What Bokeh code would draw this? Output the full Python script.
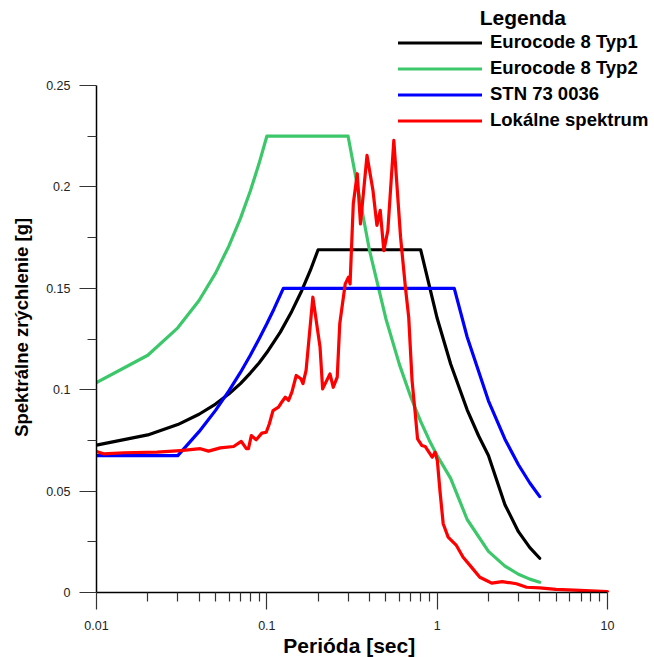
from bokeh.plotting import figure
from bokeh.models import FixedTicker, CustomJSTickFormatter, Legend, LegendItem
from bokeh.embed import file_html
from bokeh.resources import INLINE

# Eurocode 8 Typ1
t_ec8_1 = [0.01, 0.02, 0.03, 0.04, 0.05, 0.06, 0.07, 0.08, 0.09, 0.10, 0.12, 0.14, 0.16, 0.18, 0.20,
           0.80, 1.0, 1.2, 1.5, 1.75, 2.0, 2.5, 3.0, 3.5, 4.0]
sa_ec8_1 = [0.0727, 0.0777, 0.0828, 0.0879, 0.0929, 0.0980, 0.1030, 0.1082, 0.1132, 0.1183, 0.1284,
            0.1386, 0.1487, 0.1588, 0.169,
            0.169, 0.1352, 0.1127, 0.0901, 0.0773, 0.0676, 0.0433, 0.0300, 0.0221, 0.0169]

# Eurocode 8 Typ2
t_ec8_2 = [0.01, 0.02, 0.03, 0.04, 0.05, 0.06, 0.07, 0.08, 0.09, 0.10, 0.30,
           0.4, 0.5, 0.6, 0.7, 0.8, 0.9, 1.0, 1.2, 1.5, 2.0, 2.5, 3.0, 3.5, 4.0]
sa_ec8_2 = [0.1035, 0.117, 0.1305, 0.144, 0.1575, 0.171, 0.1845, 0.198, 0.2115, 0.225, 0.225,
            0.169, 0.135, 0.1125, 0.0964, 0.0844, 0.075, 0.0675, 0.0563, 0.036, 0.0203,
            0.0130, 0.0090, 0.0066, 0.0051]

# STN 73 0036
t_stn = [0.01, 0.03, 0.04, 0.05, 0.06, 0.07, 0.08, 0.09, 0.10, 0.11, 0.125,
         1.26, 1.5, 2.0, 2.5, 3.0, 3.5, 4.0]
sa_stn = [0.0675, 0.0675, 0.0793, 0.0898, 0.0995, 0.1085, 0.117, 0.125, 0.1325, 0.1397, 0.150,
          0.150, 0.126, 0.0945, 0.0756, 0.063, 0.054, 0.0473]

# Lokalne spektrum
t_lok = [0.01, 0.011, 0.0145, 0.0227, 0.0311, 0.0407, 0.0455, 0.0533, 0.0638, 0.0708, 0.0758,
         0.078, 0.0811, 0.0866, 0.0935, 0.0992, 0.1035, 0.1087, 0.1171, 0.121, 0.1283, 0.1341,
         0.1403, 0.1488, 0.1585, 0.163, 0.170, 0.1863, 0.2053, 0.2126, 0.2348, 0.2455, 0.259,
         0.268, 0.2886, 0.3014, 0.3081, 0.3218, 0.3394, 0.3547, 0.3874, 0.4199, 0.4429, 0.4633,
         0.4862, 0.5134, 0.5566, 0.6097, 0.651, 0.6807, 0.7123, 0.7275, 0.744, 0.767, 0.812,
         0.85, 0.935, 0.973, 1.002, 1.038, 1.085, 1.16, 1.297, 1.42, 1.589, 1.78, 1.947, 2.09,
         2.41, 2.92, 3.35, 4.0, 4.98, 6.9, 10.0]
sa_lok = [0.0695, 0.0684, 0.0689, 0.0692, 0.0700, 0.0709, 0.0697, 0.0713, 0.0720, 0.0745, 0.0709,
          0.0709, 0.0774, 0.0753, 0.0786, 0.0790, 0.0832, 0.0897, 0.0914, 0.0933, 0.0963, 0.0947,
          0.0988, 0.1070, 0.1054, 0.1030, 0.1095, 0.1456, 0.1210, 0.1004, 0.1078, 0.1012, 0.1062,
          0.1325, 0.1522, 0.1555, 0.1522, 0.1917, 0.2065, 0.1818, 0.2155, 0.1982, 0.1810, 0.1884,
          0.1686, 0.1785, 0.2229, 0.1752, 0.1505, 0.1357, 0.1045, 0.0963, 0.0881, 0.0758, 0.0725,
          0.0720, 0.0667, 0.0692, 0.0651, 0.0503, 0.0339, 0.0273, 0.0232, 0.0174, 0.0125, 0.0075,
          0.0059, 0.0046, 0.0054, 0.0043, 0.0026, 0.0023, 0.0015, 0.0010, 0.0005]

x_major = [0.01, 0.1, 1, 10]
x_minor = [0.02, 0.03, 0.04, 0.05, 0.06, 0.07, 0.08, 0.09,
           0.2, 0.3, 0.4, 0.5, 0.6, 0.7, 0.8, 0.9,
           2, 3, 4, 5, 6, 7, 8, 9]
y_major = [0, 0.05, 0.1, 0.15, 0.2, 0.25]
y_minor = [0.025, 0.075, 0.125, 0.175, 0.225]

series_names = ["Eurocode 8 Typ1", "Eurocode 8 Typ2", "STN 73 0036", "Lokálne spektrum"]
series_colors = ["#000000", "#3cc86a", "#0000ff", "#ff0000"]
legend_title = "Legenda"

FONT = "Liberation Sans"
NB = "\u00a0"

# layout: axes area is 511 x 507 px; the frame is enlarged (to the top and to the right)
# so that the legend, which sits above/right of the axes, is not clipped.
AX_W, AX_H = 511, 507
FR_W, FR_H = 558, 592
x_lo, x_hi = 0.01, 10.0
y_lo, y_hi = 0.0, 0.25
x_end = 10 ** (-2 + 3 * FR_W / AX_W)
y_end = y_hi * FR_H / AX_H

p = figure(x_axis_type="log", x_range=(x_lo, x_end), y_range=(y_lo, y_end),
           frame_width=FR_W, frame_height=FR_H,
           min_border_left=96, min_border_right=0, min_border_top=0, min_border_bottom=65,
           output_backend="svg", toolbar_location=None)
p.outline_line_color = None
p.grid.visible = False
p.background_fill_color = "white"

fmt = CustomJSTickFormatter(code="return tick.toString();")

p.xaxis.ticker = FixedTicker(ticks=x_major, minor_ticks=x_minor)
p.yaxis.ticker = FixedTicker(ticks=y_major, minor_ticks=y_minor)
p.xaxis.bounds = (x_lo, x_hi)
p.yaxis.bounds = (y_lo, y_hi)
for ax in (p.xaxis[0], p.yaxis[0]):
    ax.formatter = fmt
    ax.axis_line_color = "black"
    ax.axis_line_width = 1.5
    ax.major_tick_in = 0
    ax.major_tick_out = 17
    ax.minor_tick_in = 0
    ax.minor_tick_out = 9
    ax.major_tick_line_color = "#333333"
    ax.minor_tick_line_color = "#333333"
    ax.major_tick_line_width = 1.2
    ax.minor_tick_line_width = 1.2
    ax.major_label_text_font = FONT
    ax.major_label_text_font_size = "12.5px"
    ax.major_label_text_color = "#222222"
    ax.axis_label_text_font = FONT
    ax.axis_label_text_font_style = "bold"
    ax.axis_label_text_color = "black"

# trailing no-break spaces re-centre the titles on the axes area instead of the enlarged frame
p.xaxis.axis_label = "Perióda [sec]" + NB * 9
p.yaxis.axis_label = "Spektrálne zrýchlenie [g]" + NB * 12
p.xaxis.axis_label_text_font_size = "21px"
p.yaxis.axis_label_text_font_size = "18.5px"
p.xaxis.major_label_standoff = 11
p.yaxis.major_label_standoff = 9
p.xaxis.axis_label_standoff = 1
p.yaxis.axis_label_standoff = 11

xs = [t_ec8_1, t_ec8_2, t_stn, t_lok]
ys = [sa_ec8_1, sa_ec8_2, sa_stn, sa_lok]
renderers = []
for x, y, c in zip(xs, ys, series_colors):
    r = p.line(x, y, line_color=c, line_width=3.2, line_join="round", line_cap="round")
    renderers.append(r)

legend = Legend(items=[LegendItem(label=n, renderers=[r]) for n, r in zip(series_names, renderers)],
                title=NB * 14 + legend_title,
                title_text_font=FONT, title_text_font_style="bold", title_text_font_size="21px",
                title_text_color="black", title_standoff=1,
                location=(302, 461), orientation="vertical",
                border_line_color=None, background_fill_alpha=0,
                padding=0, margin=0, spacing=4,
                glyph_width=84, glyph_height=21, label_height=21, label_standoff=8,
                label_text_font=FONT, label_text_font_style="bold",
                label_text_font_size="18.5px", label_text_color="black",
                label_text_baseline="middle")
p.add_layout(legend, "center")

open("out.html", "w").write(file_html(p, INLINE))
